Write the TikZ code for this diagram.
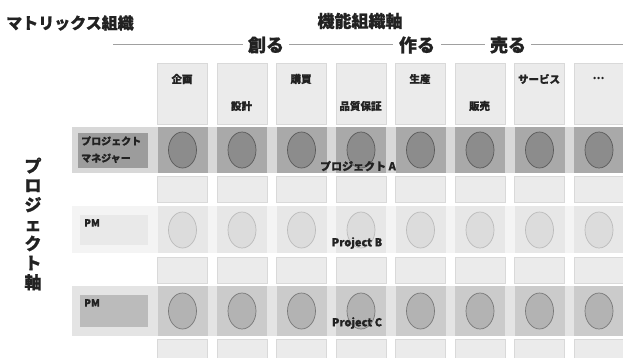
\documentclass[tikz,border=0pt]{standalone}
\usepackage{fontspec}
\setmainfont{Noto Sans CJK JP}[BoldFeatures={FakeBold=0.7}]
\definecolor{txt}{HTML}{222222}
\definecolor{colbg}{HTML}{EBEBEB}
\definecolor{colbd}{HTML}{D9D9D9}
\definecolor{bandA}{HTML}{D8D8D8}
\definecolor{cellA}{HTML}{A9A9A9}
\definecolor{ellA}{HTML}{8C8C8C}
\definecolor{ellAd}{HTML}{5A5A5A}
\definecolor{boxA}{HTML}{9C9C9C}
\definecolor{bandB}{HTML}{F4F4F4}
\definecolor{cellB}{HTML}{E7E7E7}
\definecolor{ellB}{HTML}{DCDCDC}
\definecolor{ellBd}{HTML}{BBBBBB}
\definecolor{boxB}{HTML}{E9E9E9}
\definecolor{bandC}{HTML}{E4E4E4}
\definecolor{cellC}{HTML}{CBCBCB}
\definecolor{ellC}{HTML}{B3B3B3}
\definecolor{ellCd}{HTML}{787878}
\definecolor{boxC}{HTML}{BBBBBB}
\definecolor{axline}{HTML}{A0A0A0}
\tikzset{
  title/.style={font=\bfseries\fontsize{16}{18}\selectfont, text=txt, inner sep=0pt},
  phase/.style={font=\bfseries\fontsize{18}{20}\selectfont, text=txt, inner sep=0pt},
  head/.style={font=\bfseries\fontsize{10.5}{12}\selectfont, text=txt, inner sep=0pt},
  seg/.style={fill=colbg, draw=colbd, line width=0.6pt},
  ov/.style={ellipse, minimum width=28pt, minimum height=36pt, inner sep=0pt},
  pmtxt/.style={font=\bfseries\fontsize{10}{12}\selectfont, text=txt, inner sep=0pt, anchor=north west},
  projtxt/.style={font=\bfseries\fontsize{11}{13}\selectfont, text=txt, inner sep=0pt},
  axline/.style={draw=axline, line width=0.8pt}
}
\usetikzlibrary{shapes.geometric}
\begin{document}
\begin{tikzpicture}[x=1pt,y=-1pt]
\useasboundingbox (0,0) rectangle (623,357);
\fill[white] (0,0) rectangle (623,357);
% titles
\node[title, anchor=west] (mtx) at (6,23) {マトリックス組織};
\node[title, font=\bfseries\fontsize{17}{19}\selectfont] (fax) at (360,21) {機能組織軸};
% phase labels and lines
\node[phase] (tsukuru) at (266,45) {創る};
\node[phase] (tsukuru2) at (417,45) {作る};
\node[phase] (uru) at (508,45) {売る};
\coordinate (lstart) at (113,44);
\coordinate (lend) at (623,44);
\draw[axline] (lstart) -- ([xshift=-5pt]tsukuru.west |- lstart);
\draw[axline] ([xshift=5pt]tsukuru.east |- lstart) -- ([xshift=-6pt]tsukuru2.west |- lstart);
\draw[axline] ([xshift=6pt]tsukuru2.east |- lstart) -- ([xshift=-5pt]uru.west |- lstart);
\draw[axline] ([xshift=5pt]uru.east |- lstart) -- (lend);
% bands
\fill[bandA] (72,127) rectangle (623,173);
\fill[bandB] (72,206) rectangle (623,253);
\fill[bandC] (72,286) rectangle (623,336);
% columns
\foreach \i in {0,...,7}{
  \pgfmathsetmacro{\xl}{157.5+59.5*\i}
  \pgfmathsetmacro{\xr}{\xl+50}
  \draw[seg] (\xl,63) rectangle (\xr,124);
  \fill[cellA] (\xl,127) rectangle (\xr,173);
  \draw[seg] (\xl,176) rectangle (\xr,202);
  \fill[cellB] (\xl,206) rectangle (\xr,253);
  \draw[seg] (\xl,257) rectangle (\xr,283);
  \fill[cellC] (\xl,286) rectangle (\xr,336);
  \draw[seg] (\xl,339) rectangle (\xr,360);
  \pgfmathsetmacro{\xc}{\xl+25}
  \node[ov, fill=ellA, draw=ellAd, line width=0.7pt] (eA\i) at (\xc,150) {};
  \node[ov, fill=ellB, draw=ellBd, line width=0.7pt] (eB\i) at (\xc,230) {};
  \node[ov, fill=ellC, draw=ellCd, line width=0.7pt] (eC\i) at (\xc,311) {};
}
% column heads
\node[head] (h1) at (182,79) {企画};
\node[head] (h2) at (241.5,106) {設計};
\node[head] (h3) at (301,79) {購買};
\node[head] (h4) at (360.5,106) {品質保証};
\node[head] (h5) at (420,79) {生産};
\node[head] (h6) at (479.5,106) {販売};
\node[head] (h7) at (539,79) {サービス};
\node[head] (h8) at (598.5,78) {…};
% row labels
\fill[boxA] (78,133) rectangle (148,168);
\node[font=\bfseries\fontsize{10}{17}\selectfont, text=txt, inner sep=0pt, align=left, anchor=north west] (pmA) at (81,136) {プロジェクト\\マネジャー};
\fill[boxB] (80,215) rectangle (148,245);
\node[pmtxt] (pmB) at (84,219) {PM};
\fill[boxC] (80,295) rectangle (148,327);
\node[pmtxt] (pmC) at (84,299) {PM};
% project labels
\node[projtxt] (pA) at (358,166) {プロジェクト A};
\node[projtxt] (pB) at (357,243) {Project B};
\node[projtxt] (pC) at (357,323) {Project C};
% vertical axis
\node[font=\bfseries\fontsize{17}{19.4}\selectfont, text=txt, inner sep=0pt, align=center] (pax) at (33,224) {プ\\ロ\\ジ\\ェ\\ク\\ト\\軸};
\end{tikzpicture}
\end{document}
